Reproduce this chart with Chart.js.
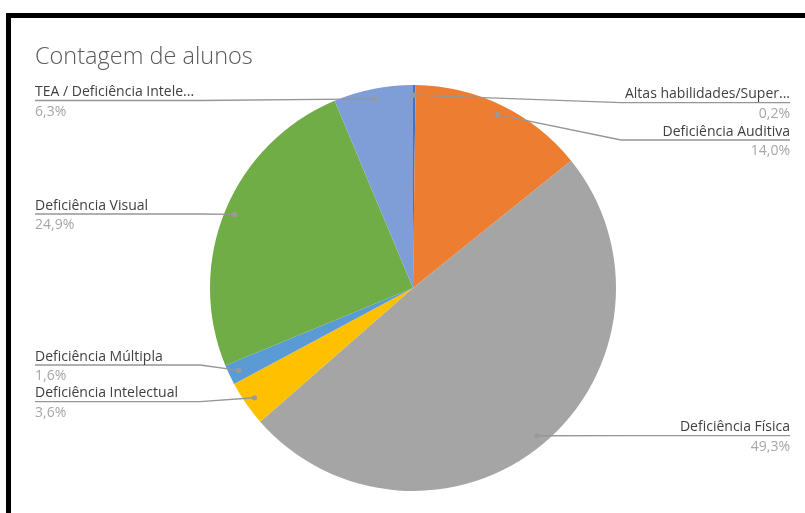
<!DOCTYPE html>
<html>
<head>
<meta charset="utf-8">
<script src="https://cdn.jsdelivr.net/npm/chart.js@4/dist/chart.umd.min.js"></script>
<style>
  html, body { margin: 0; padding: 0; background: #fff; }
  canvas { display: block; }
</style>
</head>
<body>
<canvas id="pie-chart" width="805" height="513"></canvas>
<script>
var categories = ['Altas habilidades/Super...', 'Deficiência Auditiva', 'Deficiência Física',
    'Deficiência Intelectual', 'Deficiência Múltipla', 'Deficiência Visual', 'TEA / Deficiência Intele...'];
var percentages = [0.2, 14.0, 49.3, 3.6, 1.6, 24.9, 6.3];
var sliceColors = ['#4472C4', '#ED7D31', '#A5A5A5', '#FFC000', '#5B9BD5', '#70AD47', '#7F9ED8'];

// where each label sits (side of the chart and the y of its underline)
var labelSide = ['right', 'right', 'right', 'left', 'left', 'left', 'left'];
var labelLineY = [102.7, 140, 435.7, 401.7, 365, 214, 100.5];

var labelFont = '14px "Open Sans"';

var frameAndLabels = {
    id: 'frameAndLabels',
    beforeDraw: function (chart) {
        var ctx = chart.ctx;
        ctx.save();
        ctx.fillStyle = '#fff';
        ctx.fillRect(0, 0, chart.width, chart.height);
        ctx.fillStyle = '#000';
        ctx.fillRect(6, 13, 799, 5);
        ctx.fillRect(6, 13, 5, 500);

        ctx.fillStyle = '#595959';
        ctx.font = '300 23.5px "Open Sans"';
        ctx.textBaseline = 'alphabetic';
        ctx.textAlign = 'left';
        ctx.fillText('Contagem de alunos', 35, 64);
        ctx.restore();
    },
    afterDatasetsDraw: function (chart) {
        var ctx = chart.ctx;
        var arcs = chart.getDatasetMeta(0).data;
        var leftX = 35, leftEnd = 200, rightX = 790, rightStart = 621;
        ctx.save();
        arcs.forEach(function (arc, i) {
            var mid = (arc.startAngle + arc.endAngle) / 2;
            var r = arc.outerRadius * 0.95;
            var px = arc.x + Math.cos(mid) * r;
            var py = arc.y + Math.sin(mid) * r;
            var uy = labelLineY[i];
            var left = labelSide[i] === 'left';

            ctx.strokeStyle = '#969696';
            ctx.lineWidth = 1.3;
            ctx.beginPath();
            ctx.moveTo(px, py);
            if (left) {
                ctx.lineTo(Math.min(leftEnd, px), uy);
                ctx.lineTo(leftX, uy);
            } else {
                ctx.lineTo(Math.max(rightStart, px), uy);
                ctx.lineTo(rightX, uy);
            }
            ctx.stroke();

            ctx.fillStyle = '#9a9a9a';
            ctx.beginPath();
            ctx.arc(px, py, 2.6, 0, Math.PI * 2);
            ctx.fill();

            ctx.font = labelFont;
            ctx.textAlign = left ? 'left' : 'right';
            ctx.textBaseline = 'alphabetic';
            var tx = left ? leftX : rightX;
            ctx.fillStyle = '#404040';
            ctx.fillText(categories[i], tx, uy - 4.5);
            ctx.fillStyle = '#a6a6a6';
            ctx.fillText(percentages[i].toFixed(1).replace('.', ',') + '%', tx, uy + 15);
        });
        ctx.restore();
    }
};

var canvas = document.getElementById('pie-chart');

var pieChart = new Chart(canvas, {
    type: 'pie',
    data: {
        labels: categories,
        datasets: [{
            data: percentages,
            backgroundColor: sliceColors,
            borderWidth: 0,
            hoverOffset: 0,
            offset: 0
        }]
    },
    options: {
        responsive: false,
        animation: false,
        events: [],
        layout: {
            padding: { top: 85, bottom: 22, left: 210, right: 189 }
        },
        plugins: {
            legend: { display: false },
            tooltip: { enabled: false }
        }
    },
    plugins: [frameAndLabels]
});
</script>
</body>
</html>
